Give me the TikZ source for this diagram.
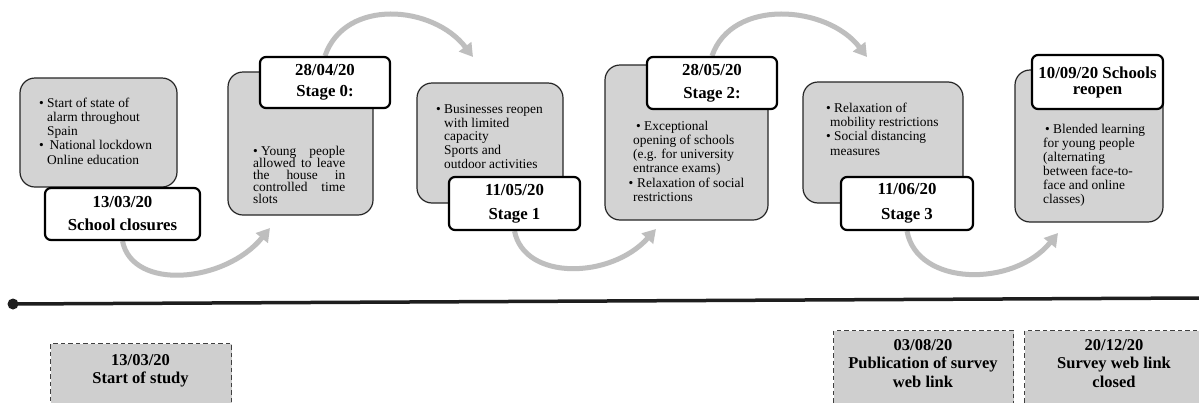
\documentclass[tikz,border=0pt]{standalone}
\usepackage{fontspec}
\setmainfont{Liberation Serif}
\usetikzlibrary{arrows.meta,backgrounds}
\definecolor{boxgray}{RGB}{211,211,211}
\definecolor{boxgraytwo}{RGB}{207,207,207}
\definecolor{arcgray}{RGB}{190,190,190}
\definecolor{lineblack}{RGB}{30,30,30}
\newcommand\fstrut{\rule{0pt}{11pt}}
\newcommand\bstrut{\rule{0pt}{12pt}}
\lineskiplimit=-20pt
\begin{document}
\begin{tikzpicture}[x=1pt,y=-1pt,
  graybox/.style={draw=black!85, line width=1.2pt, fill=boxgray, rounded corners=15pt, inner sep=0pt},
  datebox/.style={draw=black, line width=2.2pt, fill=white, rounded corners=6pt, inner sep=0pt, align=center},
  body/.style={inner sep=0pt, anchor=north west, align=left},
  flow/.style={draw=arcgray, line width=5pt, -{Triangle[length=13pt,width=15pt]}},
  survey/.style={draw=black!75, dash pattern=on 4.5pt off 3pt, line width=1.2pt, fill=boxgraytwo, inner sep=0pt, anchor=north west},
  surveytext/.style={inner sep=0pt, anchor=north, align=center, font=\bfseries\fontsize{16.5}{18.5}\selectfont}
]
\useasboundingbox (0,0) rectangle (1199,402);
\begin{scope}[on background layer]
  \fill[white] (0,0) rectangle (1199,402);
\end{scope}

% gray boxes
\node[graybox, minimum width=157pt, minimum height=109pt] (g1) at (98.5,132.5) {};
\node[graybox, minimum width=145pt, minimum height=143pt] (g2) at (300.5,143.5) {};
\node[graybox, minimum width=146pt, minimum height=120pt] (g3) at (490,143) {};
\node[graybox, minimum width=163pt, minimum height=155pt] (g4) at (686.5,142.5) {};
\node[graybox, minimum width=160pt, minimum height=121pt] (g5) at (883,142.5) {};
\node[graybox, minimum width=148pt, minimum height=152pt] (g6) at (1089,146) {};

% body texts
\node[body, font=\fontsize{13.4}{14.2}\selectfont] (t1) at (47,96)
  {\fstrut\llap{\textbullet\ }Start of state of\\alarm throughout\\Spain\\\llap{\textbullet\ }\hspace*{2.5pt}National lockdown\\Online education};
\node[body, font=\fontsize{13.4}{12}\selectfont] (t2) at (253,144)
  {\fstrut\hbox to 92pt{\textbullet\ Young\hfill people}\\\hbox to 92pt{allowed\hfill to\hfill leave}\\\hbox to 92pt{the\hfill house\hfill in}\\\hbox to 92pt{controlled\hfill time}\\slots};
\node[body, font=\fontsize{13.4}{13.8}\selectfont] (t3) at (444,102)
  {\fstrut\llap{\textbullet\ }Businesses reopen\\with limited\\capacity\\Sports and\\outdoor activities};
\node[body, font=\fontsize{13.4}{14.2}\selectfont] (t4) at (633,119)
  {\fstrut\hspace*{3pt}\textbullet\ Exceptional\\opening of schools\\(e.g. for university\\entrance exams)\\\llap{\textbullet}\hspace*{4pt}Relaxation of social\\restrictions};
\node[body, font=\fontsize{13.4}{14.3}\selectfont] (t5) at (830,101)
  {\fstrut\hspace*{-4pt}\textbullet\ Relaxation of\\mobility restrictions\\\hspace*{-4pt}\textbullet\ Social distancing\\measures};
\node[body, font=\fontsize{13.4}{14}\selectfont] (t6) at (1043,122)
  {\fstrut\hspace*{2pt}\textbullet\ Blended learning\\for young people\\(alternating\\between face-to-\\face and online\\classes)};

% date boxes
\node[datebox, minimum width=155pt, minimum height=52pt, font=\bfseries\fontsize{16.8}{23}\selectfont] (d1) at (122.5,214) {13/03/20\\School closures};
\node[datebox, minimum width=130pt, minimum height=51pt, font=\bfseries\fontsize{16.8}{21}\selectfont] (d2) at (325,82.5) {28/04/20\\Stage 0:};
\node[datebox, minimum width=131pt, minimum height=53pt, font=\bfseries\fontsize{16.8}{24}\selectfont] (d3) at (514.5,203.5) {11/05/20\\Stage 1};
\node[datebox, minimum width=130pt, minimum height=52pt, font=\bfseries\fontsize{16.8}{23}\selectfont] (d4) at (712,83) {28/05/20\\Stage 2:};
\node[datebox, minimum width=132pt, minimum height=53pt, font=\bfseries\fontsize{16.8}{25}\selectfont] (d5) at (907,203.5) {11/06/20\\Stage 3};
\node[datebox, minimum width=131pt, minimum height=54pt, font=\bfseries\fontsize{16.8}{16}\selectfont] (d6) at (1097.5,82) {10/09/20 Schools\\reopen};

% arrow tips
\coordinate (a1) at (270,228);
\coordinate (a2) at (473,57);
\coordinate (a3) at (656,229);
\coordinate (a4) at (867,57);
\coordinate (a5) at (1058,233);

\begin{scope}[on background layer]
  \draw[flow] (d1.south) .. controls +(10,50) and +(-45,55) .. (a1);
  \draw[flow] (d2.north) .. controls +(20,-58) and +(-40,-52) .. (a2);
  \draw[flow] (d3.south) .. controls +(10,50) and +(-45,50) .. (a3);
  \draw[flow] (d4.north) .. controls +(20,-58) and +(-40,-52) .. (a4);
  \draw[flow] (d5.south) .. controls +(10,55) and +(-45,55) .. (a5);
\end{scope}

% timeline
\node[circle, fill=lineblack, inner sep=0pt, minimum size=11pt] (dot) at (13,304) {};
\coordinate (tlend) at (1199,298);
\draw[line width=3.5pt, lineblack] (dot.center) -- (tlend);

% survey boxes
\begin{scope}
  \clip (0,0) rectangle (1199,402);
  \node[survey, minimum width=181pt, minimum height=80pt] (s1) at (50,343) {};
  \node[survey, minimum width=180pt, minimum height=90pt] (s2) at (833,330) {};
  \node[survey, minimum width=180pt, minimum height=90pt] (s3) at (1024,330) {};
\end{scope}
\node[surveytext] (s1t) at (140.5,353) {\bstrut 13/03/20\\Start of study};
\node[surveytext] (s2t) at (923,338) {\bstrut 03/08/20\\Publication of survey\\web link};
\node[surveytext] (s3t) at (1114,338) {\bstrut 20/12/20\\Survey web link\\closed};
\end{tikzpicture}
\end{document}
